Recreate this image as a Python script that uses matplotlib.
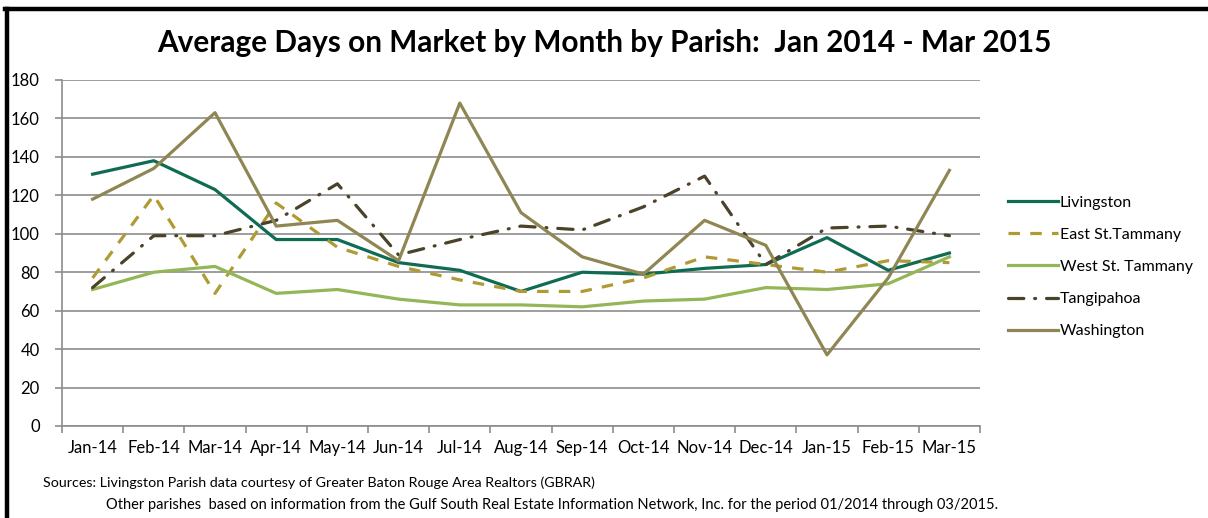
import matplotlib.pyplot as plt
import matplotlib.lines as mlines
import numpy as np

months = ['Jan-14', 'Feb-14', 'Mar-14', 'Apr-14', 'May-14', 'Jun-14', 'Jul-14', 'Aug-14',
          'Sep-14', 'Oct-14', 'Nov-14', 'Dec-14', 'Jan-15', 'Feb-15', 'Mar-15']
livingston = [131, 138, 123, 97, 97, 85, 81, 70, 80, 79, 82, 84, 98, 81, 90]
east_st_tammany = [77, 120, 69, 116, 93, 83, 76, 70, 70, 77, 88, 84, 80, 86, 85]
west_st_tammany = [71, 80, 83, 69, 71, 66, 63, 63, 62, 65, 66, 72, 71, 74, 88]
tangipahoa = [72, 99, 99, 107, 126, 89, 97, 104, 102, 114, 130, 84, 103, 104, 99]
washington = [118, 134, 163, 104, 107, 86, 168, 111, 88, 79, 107, 94, 37, 77, 133]

plt.rcParams['font.family'] = ['Lato', 'DejaVu Sans']

fig = plt.figure(figsize=(12.08, 5.18), dpi=100)
ax = fig.add_axes([62 / 1208, 1 - 426 / 518, 918 / 1208, 346 / 518])

x = np.arange(len(months))
lw = 2.3
ax.plot(x, livingston, color='#0F6C53', lw=lw, label='Livingston', zorder=3)
ax.plot(x, east_st_tammany, color='#B09A33', lw=lw, linestyle=(0, (3.6, 3.2)),
        label='East St.Tammany', zorder=3)
ax.plot(x, west_st_tammany, color='#93B657', lw=lw, label='West St. Tammany', zorder=3)
ax.plot(x, tangipahoa, color='#4A4229', lw=lw, linestyle=(0, (4.8, 3.4, 0.3, 3.4)),
        dash_capstyle='round', label='Tangipahoa', zorder=3)
ax.plot(x, washington, color='#8E8754', lw=lw, label='Washington', zorder=4)

ax.set_ylim(0, 180)
ax.set_yticks(range(0, 181, 20))
ax.set_xlim(-0.5, len(months) - 0.5)
ax.set_xticks(np.arange(-0.5, len(months), 1))
ax.set_xticklabels([])
ax.set_xticks(x, minor=True)
ax.set_xticklabels(months, minor=True)
ax.tick_params(axis='x', which='major', length=5, color='#8c8c8c', width=1.2, direction='out')
ax.tick_params(axis='x', which='minor', length=0, labelsize=12, pad=10)
ax.tick_params(axis='y', length=5, color='#8c8c8c', width=1.2, labelsize=12, pad=11)
ax.yaxis.grid(True, color='#8c8c8c', lw=1.2)
ax.set_axisbelow(True)
for side in ['top', 'right']:
    ax.spines[side].set_visible(False)
for side in ['left', 'bottom']:
    ax.spines[side].set_color('#8c8c8c')
    ax.spines[side].set_linewidth(1.2)

fig.text(0.5, 1 - 43 / 518, 'Average Days on Market by Month by Parish:  Jan 2014 - Mar 2015',
         ha='center', va='center', fontsize=21.4, fontweight='bold')

fig.legend(loc='center left', bbox_to_anchor=(1008 / 1208, 1 - 267 / 518), frameon=False,
           fontsize=11.5, handlelength=3.1, handletextpad=0.15, labelspacing=1.12,
           borderpad=0, borderaxespad=0)

fig.text(43 / 1208, 1 - 483 / 518,
         'Sources: Livingston Parish data courtesy of Greater Baton Rouge Area Realtors (GBRAR)',
         ha='left', va='center', fontsize=10.3)
fig.text(106 / 1208, 1 - 505 / 518,
         'Other parishes  based on information from the Gulf South Real Estate Information Network, Inc. for the period 01/2014 through 03/2015.',
         ha='left', va='center', fontsize=10.5)

# black frame (top and left edges)
fig.add_artist(mlines.Line2D([7 / 1208, 7 / 1208], [0, 1 - 9 / 518], color='black', lw=3.2))
fig.add_artist(mlines.Line2D([5 / 1208, 1], [1 - 9 / 518, 1 - 9 / 518], color='black', lw=3.2))

fig.savefig('out.png', dpi=100)
